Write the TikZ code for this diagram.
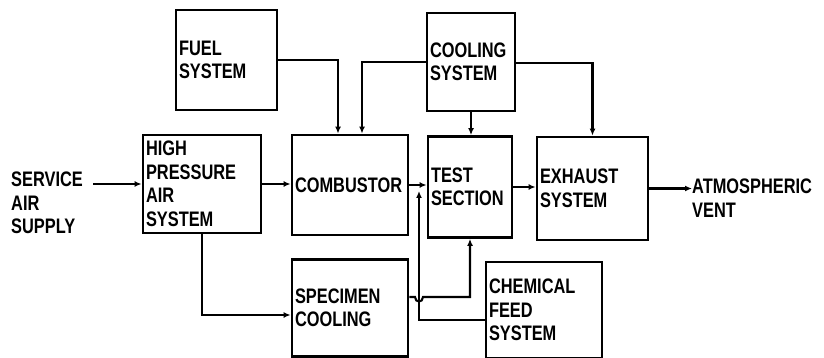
\documentclass[tikz,border=0pt]{standalone}
\usepackage{fontspec}
\setmainfont{Liberation Sans}[FakeStretch=0.78]
\usetikzlibrary{arrows.meta}
\tikzset{
  blk/.style ={rectangle, draw=black, line width=2.8pt, inner xsep=3pt, inner ysep=2pt,
               align=left, font=\bfseries\fontsize{21}{23.5}\selectfont},
  txt/.style ={align=left, inner sep=0pt, font=\bfseries\fontsize{21}{23.5}\selectfont},
  flow/.style={-{Latex[length=7pt,width=6pt]}, line width=2.1pt}
}
\begin{document}
\begin{tikzpicture}[x=1pt,y=-1pt]
\path[use as bounding box, fill=white] (0,0) rectangle (824,358);

% Blocks
\node[blk, text width=95pt,  minimum height=100pt] (fuel) at (226.5,60) {FUEL\\SYSTEM};
\node[blk, text width=112pt, minimum height=98pt]  (hpas) at (202,184)  {HIGH\\PRESSURE\\AIR\\SYSTEM};
\node[blk, text width=110pt, minimum height=100pt] (comb) at (350,185)  {COMBUSTOR};
\node[blk, text width=82pt,  minimum height=98pt]  (cool) at (471,62)   {COOLING\\SYSTEM};
\node[blk, text width=78pt,  minimum height=101pt] (test) at (470,187)  {TEST\\SECTION};
\node[blk, text width=105pt, minimum height=103pt] (exh)  at (592.5,188.5) {EXHAUST\\SYSTEM};
\node[blk, text width=110pt, minimum height=97pt]  (spec) at (350,308)  {SPECIMEN\\COOLING};
\node[blk, text width=110pt, minimum height=96pt]  (chem) at (544,310)  {CHEMICAL\\FEED\\SYSTEM};

% In / out
\node[txt, anchor=west] (svc) at (11,203) {SERVICE\\AIR\\SUPPLY};
\node[txt, anchor=west] (atm) at (692,198) {ATMOSPHERIC\\VENT};

% Junction points
\coordinate (jn)  at (419,191);
\coordinate (hop) at (419,297);

% Main line
\draw[flow] ([xshift=10pt]svc.east |- hpas.west) -- (hpas.west);
\draw[flow] (hpas.east) -- (hpas.east -| comb.west);
\draw[flow] (comb.east) -- (comb.east -| test.west);
\draw[flow] (test.east) -- (test.east -| exh.west);
\draw[flow] (exh.east) -- (exh.east -| atm.west);

% Feeds from above
\draw[flow] (fuel.east) -| ([xshift=-12pt]comb.north);
\draw[flow] (cool.west) -| ([xshift=12pt]comb.north);
\draw[flow] (cool.south) -- (cool.south |- test.north);
\draw[flow] ([yshift=-1pt]cool.east) -| (exh.north);

% Feeds from below
\draw[flow] (hpas.south) |- ([yshift=-7pt]spec.west);
\draw[flow] ([yshift=11pt]spec.east) -- ([xshift=-4pt]hop)
  .. controls +(0,6) and +(0,6) .. ([xshift=4pt]hop) -- (test.south |- hop) -- (test.south);
\draw[flow] ([yshift=-10pt]chem.west) -| (jn);
\end{tikzpicture}
\end{document}
